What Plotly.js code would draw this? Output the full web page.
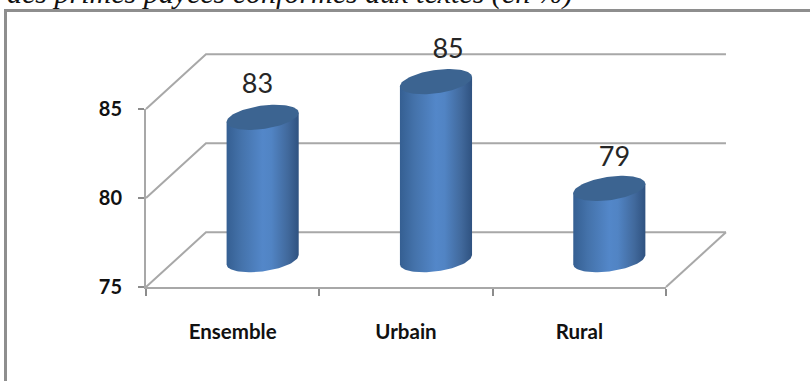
<!DOCTYPE html>
<html>
<head>
<meta charset="utf-8">
<script src="https://cdn.plot.ly/plotly-3.0.1.min.js"></script>
<style>html,body{margin:0;padding:0;background:#fff;overflow:hidden}</style>
</head>
<body>
<div id="chart" style="width:810px;height:381px"></div>
<script>
// Percentages per area
const categories = ['Ensemble', 'Urbain', 'Rural'];
const values = [83, 85, 79];
const yTicks = [75, 80, 85];
const heading = 'des primes payées conformes aux textes (en %)';

// Page size and the rectangle spanned by the front axes
const W = 810, H = 381;
const front = {l: 146, r: 666, t: 109, b: 287};
const xMax = categories.length;

// Oblique projection of the 3D box, in axis units
const depthX = 0.346;
const depthY = 3.07;
const radiusX = 0.208;
const ellipseY = 0.66;
const ellipseTilt = 0.26;
const gridColor = '#a8a8a8';
const sans = 'Lato, "Liberation Sans", sans-serif';

// The overlay axes cover the whole page at the same scale as the front axes,
// so the receding walls and the cylinders can reach past the axis rectangle.
const pxPerX = (front.r - front.l) / xMax;
const pxPerY = (front.b - front.t) / (yTicks[2] - yTicks[0]);
const overlayX = [-front.l / pxPerX, (W - front.l) / pxPerX];
const overlayY = [yTicks[0] - (H - front.b) / pxPerY, yTicks[0] + front.b / pxPerY];

const traces = [];
const onOverlay = {xaxis: 'x2', yaxis: 'y2', hoverinfo: 'skip', showlegend: false};

// Holds the front axes in place
traces.push({
  x: values.map((v, i) => i + 0.5), y: values, mode: 'markers',
  marker: {size: 1, opacity: 0}, hoverinfo: 'skip', showlegend: false
});

// Side wall and back wall lines for each gridline level
yTicks.forEach(v => {
  traces.push({
    ...onOverlay,
    x: [0, depthX, xMax + depthX],
    y: [v, v + depthY, v + depthY],
    mode: 'lines', line: {color: gridColor, width: 2}
  });
});
// Right edge of the floor
traces.push({
  ...onOverlay,
  x: [xMax, xMax + depthX],
  y: [yTicks[0], yTicks[0] + depthY],
  mode: 'lines', line: {color: gridColor, width: 2}
});

// Point on a tilted ellipse around a cylinder's axis
const rim = (cx, cy, t) => [
  cx + radiusX * Math.cos(t),
  cy + ellipseY * Math.sin(t) + ellipseTilt * Math.cos(t)
];

values.forEach((v, i) => {
  const cx = i + 0.5 + depthX / 2;
  const floor = yTicks[0] + depthY / 2;
  const top = v + depthY / 2;
  const n = 48;

  // Body: along the front of the base from left to right, then over the top rim
  const bx = [], by = [];
  for (let k = 0; k <= n; k++) {
    const [px, py] = rim(cx, floor, Math.PI + k / n * Math.PI);
    bx.push(px); by.push(py);
  }
  const [rx, ry] = rim(cx, top, 0);
  const [lx, ly] = rim(cx, top, Math.PI);
  bx.push(rx, lx); by.push(ry, ly);
  traces.push({
    ...onOverlay,
    x: bx, y: by, mode: 'lines', fill: 'toself', name: categories[i],
    line: {width: 0, color: 'rgba(0,0,0,0)'},
    fillgradient: {
      type: 'horizontal',
      colorscale: [
        [0, '#355f92'], [0.2, '#4472aa'], [0.5, '#5387c9'],
        [0.62, '#5184c4'], [0.85, '#41699c'], [1, '#2f5280']
      ]
    }
  });

  // Top cap
  const tx = [], ty = [];
  for (let k = 0; k <= 2 * n; k++) {
    const [px, py] = rim(cx, top, k / n * Math.PI);
    tx.push(px); ty.push(py);
  }
  traces.push({
    ...onOverlay,
    x: tx, y: ty, mode: 'lines', fill: 'toself',
    fillcolor: '#3c6491', line: {width: 0, color: 'rgba(0,0,0,0)'}
  });
});

// Value labels above the cylinders
const labelNudgeX = [-0.03, 0.07, 0.03];
const labelNudgeY = [1.72, 1.72, 1.62];
traces.push({
  ...onOverlay,
  x: values.map((v, i) => i + 0.5 + depthX / 2 + labelNudgeX[i]),
  y: values.map((v, i) => v + depthY / 2 + labelNudgeY[i]),
  text: values.map(String),
  mode: 'text', textposition: 'middle center',
  textfont: {family: sans, size: 27, color: '#262626'}
});

// Frame around the chart, open at the bottom and right
const fx = x => x / W;
const fy = y => 1 - y / H;

const layout = {
  width: W, height: H,
  margin: {l: 0, r: 0, t: 0, b: 0},
  paper_bgcolor: '#fff', plot_bgcolor: 'rgba(0,0,0,0)',
  showlegend: false,
  xaxis: {
    domain: [fx(front.l), fx(front.r)], anchor: 'y',
    range: [0, xMax], fixedrange: true, showgrid: false, zeroline: false,
    showline: true, linecolor: gridColor, linewidth: 2,
    tickmode: 'array', tickvals: [0.5, 1.5, 2.5], ticktext: categories,
    ticks: '', ticklabelstandoff: 25,
    tickfont: {family: sans, size: 20.5, color: '#111', weight: 'bold'},
    minor: {tickmode: 'array', tickvals: [0, 1, 2, 3], ticks: 'outside',
            ticklen: 7, tickcolor: '#8c8c8c', tickwidth: 2, showgrid: false}
  },
  yaxis: {
    domain: [fy(front.b), fy(front.t)], anchor: 'x',
    range: [yTicks[0], yTicks[2]], fixedrange: true, showgrid: false, zeroline: false,
    showline: true, linecolor: gridColor, linewidth: 2,
    tickmode: 'array', tickvals: yTicks, ticks: 'outside', ticklen: 6,
    tickcolor: '#8c8c8c', tickwidth: 2, ticklabelstandoff: 12,
    tickfont: {family: sans, size: 20, color: '#111', weight: 'bold'}
  },
  xaxis2: {domain: [0, 1], range: overlayX, anchor: 'y2', visible: false, fixedrange: true},
  yaxis2: {domain: [0, 1], range: overlayY, anchor: 'x2', visible: false, fixedrange: true},
  shapes: [{
    type: 'path', xref: 'paper', yref: 'paper',
    path: `M ${fx(5.5)} ${fy(385)} L ${fx(5.5)} ${fy(10.5)} L ${fx(815)} ${fy(10.5)}`,
    line: {color: '#8e8e8e', width: 3}
  }],
  annotations: [{
    text: heading, xref: 'paper', yref: 'paper', showarrow: false,
    xanchor: 'left', yanchor: 'bottom', x: fx(5), y: fy(12),
    font: {family: '"Liberation Serif", serif', size: 30, color: '#111', style: 'italic'}
  }]
};

Plotly.newPlot('chart', traces, layout, {staticPlot: true, displayModeBar: false});
</script>
</body>
</html>
